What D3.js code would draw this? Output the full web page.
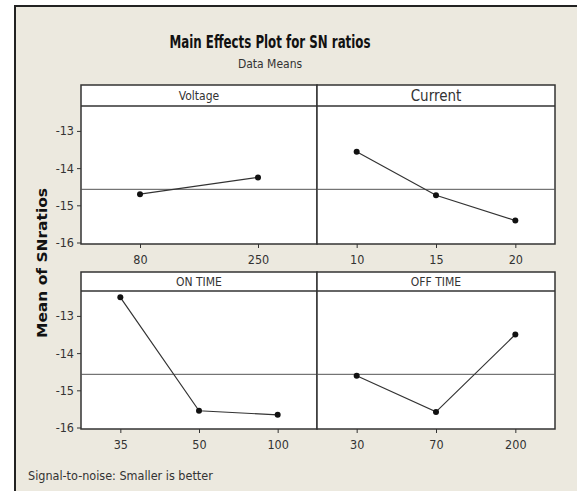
<!DOCTYPE html>
<html>
<head>
<meta charset="utf-8">
<script src="https://cdn.jsdelivr.net/npm/d3@7/dist/d3.min.js"></script>
<style>
  html, body { margin: 0; padding: 0; background: #fff; }
  svg { display: block; }
  text { font-family: "DejaVu Sans Condensed", "DejaVu Sans", sans-serif; fill: #333; }
</style>
</head>
<body>
<svg id="chart" width="577" height="491"></svg>
<script>
// factor names, level labels and mean SN ratio per level
var factors = ['Voltage', 'Current', 'ON TIME', 'OFF TIME'];
var voltageLevels = ['80', '250'];
var voltageMeans = [-14.70, -14.25];
var currentLevels = ['10', '15', '20'];
var currentMeans = [-13.56, -14.73, -15.41];
var onTimeLevels = ['35', '50', '100'];
var onTimeMeans = [-12.50, -15.55, -15.66];
var offTimeLevels = ['30', '70', '200'];
var offTimeMeans = [-14.61, -15.58, -13.50];
var grandMean = -14.57;
var yTicks = [-13, -14, -15, -16];

var panels = [
    {name: factors[0], levels: voltageLevels, means: voltageMeans, col: 0, row: 0, headSize: 12},
    {name: factors[1], levels: currentLevels, means: currentMeans, col: 1, row: 0, headSize: 15},
    {name: factors[2], levels: onTimeLevels, means: onTimeMeans, col: 0, row: 1, headSize: 12},
    {name: factors[3], levels: offTimeLevels, means: offTimeMeans, col: 1, row: 1, headSize: 12}
];

var cols = [81, 317, 555];
var rows = [
    {top: 85, plotTop: 106, bottom: 244},
    {top: 272, plotTop: 291, bottom: 429}
];
var ink = '#333';

var svg = d3.select('#chart');

// beige frame
svg.append('rect')
    .attr('x', 15).attr('y', 6)
    .attr('width', 600).attr('height', 500)
    .attr('fill', '#ece9df')
    .attr('stroke', '#222').attr('stroke-width', 2);

svg.append('text')
    .attr('x', 270).attr('y', 48)
    .attr('text-anchor', 'middle')
    .attr('textLength', 201).attr('lengthAdjust', 'spacingAndGlyphs')
    .style('font-size', '18px').style('font-weight', 'bold').style('fill', '#111')
    .text('Main Effects Plot for SN ratios');

svg.append('text')
    .attr('x', 270).attr('y', 68)
    .attr('text-anchor', 'middle')
    .style('font-size', '12px')
    .text('Data Means');

svg.append('text')
    .attr('transform', 'translate(47,263) rotate(-90)')
    .attr('text-anchor', 'middle')
    .attr('textLength', 150).attr('lengthAdjust', 'spacingAndGlyphs')
    .style('font-family', '"DejaVu Sans", sans-serif')
    .style('font-size', '13.5px').style('font-weight', 'bold').style('fill', '#111')
    .text('Mean of SNratios');

svg.append('text')
    .attr('x', 28).attr('y', 480)
    .style('font-size', '12.5px')
    .text('Signal-to-noise: Smaller is better');

panels.forEach(function(p) {
    var r = rows[p.row];
    var x0 = cols[p.col], x1 = cols[p.col + 1];
    var g = svg.append('g');

    var x = d3.scalePoint().domain(p.levels).range([x0, x1]).padding(0.5);
    var y = d3.scaleLinear().domain([-16.04, -12.33]).range([r.bottom, r.plotTop]);

    // header strip and plot area
    g.append('rect')
        .attr('x', x0).attr('y', r.top)
        .attr('width', x1 - x0).attr('height', r.bottom - r.top)
        .attr('fill', '#fff').attr('stroke', ink).attr('stroke-width', 1.5);
    g.append('line')
        .attr('x1', x0).attr('x2', x1)
        .attr('y1', r.plotTop).attr('y2', r.plotTop)
        .attr('stroke', ink).attr('stroke-width', 1.5);

    g.append('text')
        .attr('x', (x0 + x1) / 2).attr('y', (r.top + r.plotTop) / 2)
        .attr('dy', '0.36em')
        .attr('text-anchor', 'middle')
        .style('font-size', p.headSize + 'px')
        .text(p.name);

    // overall mean reference line
    g.append('line')
        .attr('x1', x0).attr('x2', x1)
        .attr('y1', y(grandMean)).attr('y2', y(grandMean))
        .attr('stroke', '#555').attr('stroke-width', 1);

    var xAxis = g.append('g')
        .attr('transform', 'translate(0,' + r.bottom + ')')
        .call(d3.axisBottom(x).tickSize(4).tickPadding(7));
    xAxis.select('.domain').remove();
    xAxis.selectAll('line').attr('stroke', ink);
    xAxis.selectAll('text').style('font-size', '12.5px').style('fill', ink);

    if(p.col === 0) {
        var yAxis = g.append('g')
            .attr('transform', 'translate(' + x0 + ',0)')
            .call(d3.axisLeft(y).tickValues(yTicks).tickSize(4).tickPadding(3)
                .tickFormat(function(d) { return '-' + Math.abs(d); }));
        yAxis.select('.domain').remove();
        yAxis.selectAll('line').attr('stroke', ink);
        yAxis.selectAll('text').style('font-size', '12.5px').style('fill', ink);
    }

    var pts = p.levels.map(function(l, i) { return {level: l, mean: p.means[i]}; });

    g.append('path')
        .datum(pts)
        .attr('fill', 'none').attr('stroke', ink).attr('stroke-width', 1.2)
        .attr('d', d3.line()
            .x(function(d) { return x(d.level); })
            .y(function(d) { return y(d.mean); }));

    g.selectAll('circle')
        .data(pts)
        .enter().append('circle')
        .attr('cx', function(d) { return x(d.level); })
        .attr('cy', function(d) { return y(d.mean); })
        .attr('r', 3)
        .attr('fill', '#111');
});
</script>
</body>
</html>
